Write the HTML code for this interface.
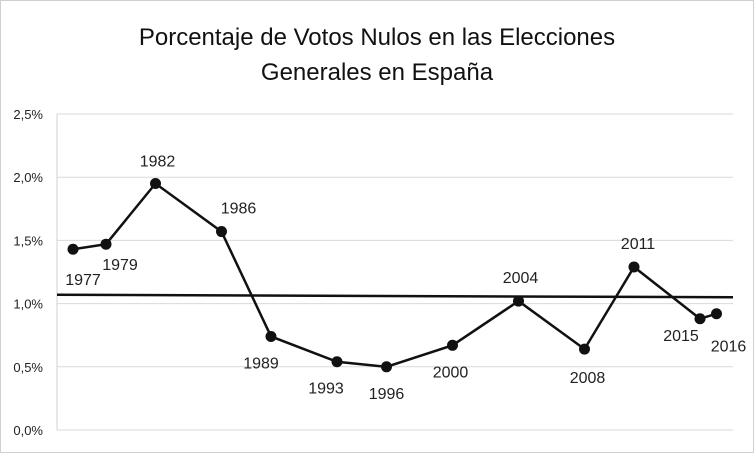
<!DOCTYPE html>
<html><head><meta charset="utf-8"><style>
body{margin:0;background:#fff;}
svg{display:block;font-family:"Liberation Sans","DejaVu Sans",sans-serif;}
</style></head><body>
<svg id="chart" width="754" height="453" viewBox="0 0 754 453">
<rect x="0.5" y="0.5" width="753" height="452" fill="#fff" stroke="#d0d0d0"/>
<text x="377" y="45" font-size="24" text-anchor="middle" fill="#111">Porcentaje de Votos Nulos en las Elecciones</text>
<text x="377" y="80" font-size="24" text-anchor="middle" fill="#111">Generales en España</text>
<g id="grid"></g><g id="yt"></g><g id="series"></g><g id="labels"></g>
</svg>
<script>
const years=[1977,1979,1982,1986,1989,1993,1996,2000,2004,2008,2011,2015,2016];
const values=[1.43,1.47,1.95,1.57,0.74,0.54,0.50,0.67,1.02,0.64,1.29,0.88,0.92];
const labelDx=[10,14,2,17,-10,-11,0,-2,2,3,4,-19,12];
const labelDy=[36,26,-17,-18,32,32,32,32,-18,34,-18,22,38];
const yTicks=[0,0.5,1,1.5,2,2.5];
const yTickLabels=["0,0%","0,5%","1,0%","1,5%","2,0%","2,5%"];
const avgStart=1.07, avgEnd=1.05;
const L=57,R=733,T=114,B=430;
const y=v=>B-(B-T)*v/2.5;
const x=yr=>73+16.5*(yr-1977);
const NS="http://www.w3.org/2000/svg";
function mk(p,t,a){const e=document.createElementNS(NS,t);for(const k in a)e.setAttribute(k,a[k]);p.appendChild(e);return e;}
const grid=document.getElementById('grid'),yt=document.getElementById('yt'),ser=document.getElementById('series'),lab=document.getElementById('labels');
yTicks.forEach((v,i)=>{
 const g=mk(grid,'line',{x1:L,x2:R,y1:y(v),y2:y(v),stroke:'#d9d9d9','stroke-width':1});
 
 
 const t=mk(yt,'text',{x:43,y:y(v)+5,'font-size':13,'text-anchor':'end',fill:'#222'});
 t.textContent=yTickLabels[i];
 
 
});
const ax=mk(grid,'line',{x1:L,x2:L,y1:T,y2:B,stroke:'#d0d0d0'});


const avg=mk(ser,'line',{x1:L,x2:R,y1:y(avgStart),y2:y(avgEnd),stroke:'#111','stroke-width':2.5});


const pl=mk(ser,'polyline',{points:years.map((yr,i)=>x(yr)+','+y(values[i])).join(' '),fill:'none',stroke:'#111','stroke-width':2.5});


years.forEach((yr,i)=>{
 const c=mk(ser,'circle',{cx:x(yr),cy:y(values[i]),r:5.5,fill:'#111'});
 
 
 const t=mk(lab,'text',{x:x(yr)+labelDx[i],y:y(values[i])+labelDy[i],'font-size':16,'text-anchor':'middle',fill:'#222'});
 t.textContent=yr;
 
 
});
</script>
</body></html>
